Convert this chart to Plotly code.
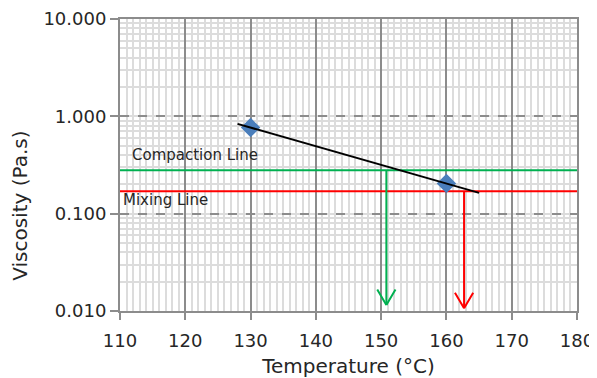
import numpy as np
import plotly.graph_objects as go

# ---- data ----
temps = [130, 160]
viscosity = [0.766, 0.204]
trend_x = [128, 165]
compaction_visc = 0.28
mixing_visc = 0.17
compaction_temp = 150.8
mixing_temp = 162.7
compaction_tip = 0.0115
mixing_tip = 0.0107
x_range = [110, 180]
y_tickvals = [0.01, 0.1, 1, 10]
y_ticktext = ["0.010", "0.100", "1.000", "10.000"]
x_tickvals = [110, 120, 130, 140, 150, 160, 170, 180]

GREEN = "#00b050"
RED = "#ff0000"
BLUE = "#4a7ebb"
FONT = "DejaVu Sans"
TXT = "#262626"

# log-linear trend through the measured points
coef = np.polyfit(temps, np.log10(viscosity), 1)
trend_y = [10 ** np.polyval(coef, t) for t in trend_x]

fig = go.Figure()

# horizontal reference lines
fig.add_trace(go.Scatter(x=x_range, y=[compaction_visc] * 2, mode="lines",
                         line=dict(color=GREEN, width=2), hoverinfo="skip"))
fig.add_trace(go.Scatter(x=x_range, y=[mixing_visc] * 2, mode="lines",
                         line=dict(color=RED, width=2), hoverinfo="skip"))
# arrow shafts
fig.add_trace(go.Scatter(x=[compaction_temp] * 2, y=[compaction_visc, compaction_tip],
                         mode="lines", line=dict(color=GREEN, width=2), hoverinfo="skip"))
fig.add_trace(go.Scatter(x=[mixing_temp] * 2, y=[mixing_visc, mixing_tip],
                         mode="lines", line=dict(color=RED, width=2), hoverinfo="skip"))
# data points
fig.add_trace(go.Scatter(x=temps, y=viscosity, mode="markers",
                         marker=dict(symbol="diamond", size=15, color=BLUE)))
# trend line
fig.add_trace(go.Scatter(x=trend_x, y=trend_y, mode="lines",
                         line=dict(color="black", width=2)))

annotations = []
# arrowhead strokes (V shape)
for t, tip, col in [(compaction_temp, compaction_tip, GREEN), (mixing_temp, mixing_tip, RED)]:
    for side in (-1, 1):
        annotations.append(dict(x=t, y=np.log10(tip), xref="x", yref="y", text="",
                                showarrow=True, arrowhead=0, arrowwidth=2, arrowcolor=col,
                                ax=10 * side, ay=-17, standoff=0, startstandoff=0))

annotations.append(dict(x=111.6, y=np.log10(compaction_visc), xref="x", yref="y",
                        text="Compaction Line", showarrow=False, xanchor="left",
                        yanchor="bottom", yshift=4,
                        font=dict(family=FONT, size=15, color=TXT)))
annotations.append(dict(x=110.1, y=np.log10(mixing_visc), xref="x", yref="y",
                        text="Mixing Line", showarrow=False, xanchor="left",
                        yanchor="top", yshift=2,
                        font=dict(family=FONT, size=15, color=TXT)))
annotations.append(dict(x=-0.219, y=0.36, xref="paper", yref="paper",
                        text="Viscosity (Pa.s)", showarrow=False, textangle=-90,
                        xanchor="center", yanchor="middle",
                        font=dict(family=FONT, size=20, color=TXT)))

# page body adds an 8px offset, so the figure is sized to compensate
fig.update_layout(
    width=589, height=370,
    margin=dict(l=112, r=20, t=11, b=67),
    paper_bgcolor="white", plot_bgcolor="white",
    showlegend=False,
    annotations=annotations,
    font=dict(family=FONT, size=18, color=TXT),
    xaxis=dict(
        range=x_range, tickvals=x_tickvals, automargin=False,
        showline=True, linecolor="#8c8c8c", linewidth=2, mirror=True,
        ticks="outside", ticklen=7, tickcolor="#8c8c8c", tickwidth=2,
        ticklabelstandoff=5,
        showgrid=True, gridcolor="#8c8c8c", gridwidth=1.5,
        minor=dict(dtick=1, showgrid=True, gridcolor="#dcdcdc", gridwidth=2,
                   griddash="solid", ticks=""),
        tickfont=dict(family=FONT, size=18, color=TXT),
        title=dict(text="Temperature (°C)", font=dict(family=FONT, size=20, color=TXT), standoff=10),
        zeroline=False,
    ),
    yaxis=dict(
        type="log", range=[-2, 1], tickvals=y_tickvals, ticktext=y_ticktext, automargin=False,
        showline=True, linecolor="#8c8c8c", linewidth=2, mirror=True,
        ticks="outside", ticklen=8, tickcolor="#8c8c8c", tickwidth=2,
        showgrid=True, gridcolor="#8c8c8c", gridwidth=1.5, griddash="dash",
        minor=dict(dtick="D1", showgrid=True, gridcolor="#dcdcdc", gridwidth=2,
                   griddash="solid", ticks=""),
        tickfont=dict(family=FONT, size=18, color=TXT),
        zeroline=False,
    ),
)

fig.write_html("out.html")
